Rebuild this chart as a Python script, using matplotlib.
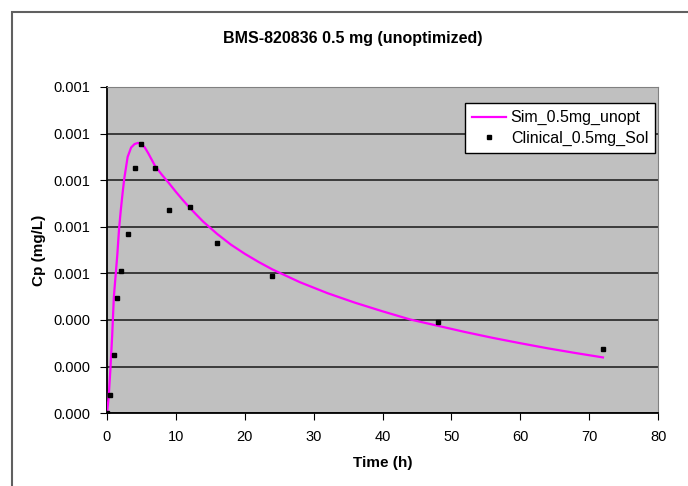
import matplotlib.pyplot as plt
import numpy as np
from matplotlib.ticker import FuncFormatter
from matplotlib.patches import Rectangle

plt.rcParams['font.family'] = ['Liberation Sans', 'DejaVu Sans']

# simulated curve
sim_t = [0, 0.25, 0.5, 0.75, 1, 1.25, 1.5, 1.75, 2, 2.25, 2.5, 3, 3.5, 4, 4.5, 5, 5.5,
         6, 7, 8, 9, 10, 11, 12, 13, 14, 16, 18, 20, 22, 24, 28, 32, 36, 40, 44, 48,
         52, 56, 60, 64, 68, 72]
sim_cp = [0, 0.00007, 0.00019, 0.00033, 0.00050, 0.00059, 0.00068, 0.00079, 0.00087,
          0.00094, 0.001005, 0.00110, 0.00114, 0.001155, 0.00116, 0.001155, 0.00114,
          0.001115, 0.00106, 0.001022, 0.000987, 0.000950, 0.000915, 0.000882,
          0.000851, 0.000821, 0.000769, 0.000723, 0.000684, 0.000649, 0.000617,
          0.000562, 0.000515, 0.000474, 0.000437, 0.000402, 0.000375, 0.000348,
          0.000323, 0.000300, 0.000278, 0.000258, 0.000239]

# clinical observations
clin_t = [0, 0.5, 1, 1.5, 2, 3, 4, 5, 7, 9, 12, 16, 24, 48, 72]
clin_cp = [0.0, 0.000078, 0.000251, 0.000495, 0.000611, 0.000767, 0.001051, 0.001157,
           0.001053, 0.000871, 0.000886, 0.00073, 0.00059, 0.000391, 0.000276]

fig = plt.figure(figsize=(6.88, 4.86), dpi=100)
ax = fig.add_axes([0.1555, 0.150, 0.801, 0.671])

ax.set_facecolor('#C0C0C0')
ax.plot(sim_t, sim_cp, color='#FF00FF', lw=1.6, label='Sim_0.5mg_unopt', zorder=3)
ax.plot(clin_t, clin_cp, 's', color='black', ms=3.5, label='Clinical_0.5mg_Sol', zorder=4)

ax.set_xlim(0, 80)
ax.set_ylim(0, 0.0014)
ax.set_xticks(np.arange(0, 81, 10))
ax.set_yticks(np.arange(0, 0.00141, 0.0002))
ax.yaxis.set_major_formatter(FuncFormatter(lambda v, p: '{:.3f}'.format(v)))
ax.grid(axis='y', color='#303030', lw=1.3)
ax.set_axisbelow(True)

for s in ['top', 'right']:
    ax.spines[s].set_color('#808080')
for s in ['left', 'bottom']:
    ax.spines[s].set_color('black')
    ax.spines[s].set_linewidth(1.3)
ax.tick_params(direction='out', length=5, labelsize=10.5, color='black')
ax.tick_params(axis='y', pad=7)
ax.tick_params(axis='x', pad=7)

ax.set_xlabel('Time (h)', fontsize=11, fontweight='bold', labelpad=9)
ax.set_ylabel('Cp (mg/L)', fontsize=11, fontweight='bold', labelpad=5)
fig.text(353 / 688, 1 - 38 / 486, 'BMS-820836 0.5 mg (unoptimized)', fontsize=11.5,
         fontweight='bold', ha='center', va='center')

leg = ax.legend(loc='upper right', bbox_to_anchor=(0.995, 0.951), borderaxespad=0,
                fontsize=11.5, frameon=True, fancybox=False, framealpha=1,
                edgecolor='black', handlelength=2.1, borderpad=0.45,
                labelspacing=0.35, handletextpad=0.3)
leg.get_frame().set_linewidth(1.0)

# outer chart border
fig.patches.append(Rectangle((12 / 688, -0.1), 1.2, 1.1 - 12 / 486,
                             transform=fig.transFigure, fill=False,
                             edgecolor='#606060', lw=1.5))

plt.savefig('out.png', dpi=100)
